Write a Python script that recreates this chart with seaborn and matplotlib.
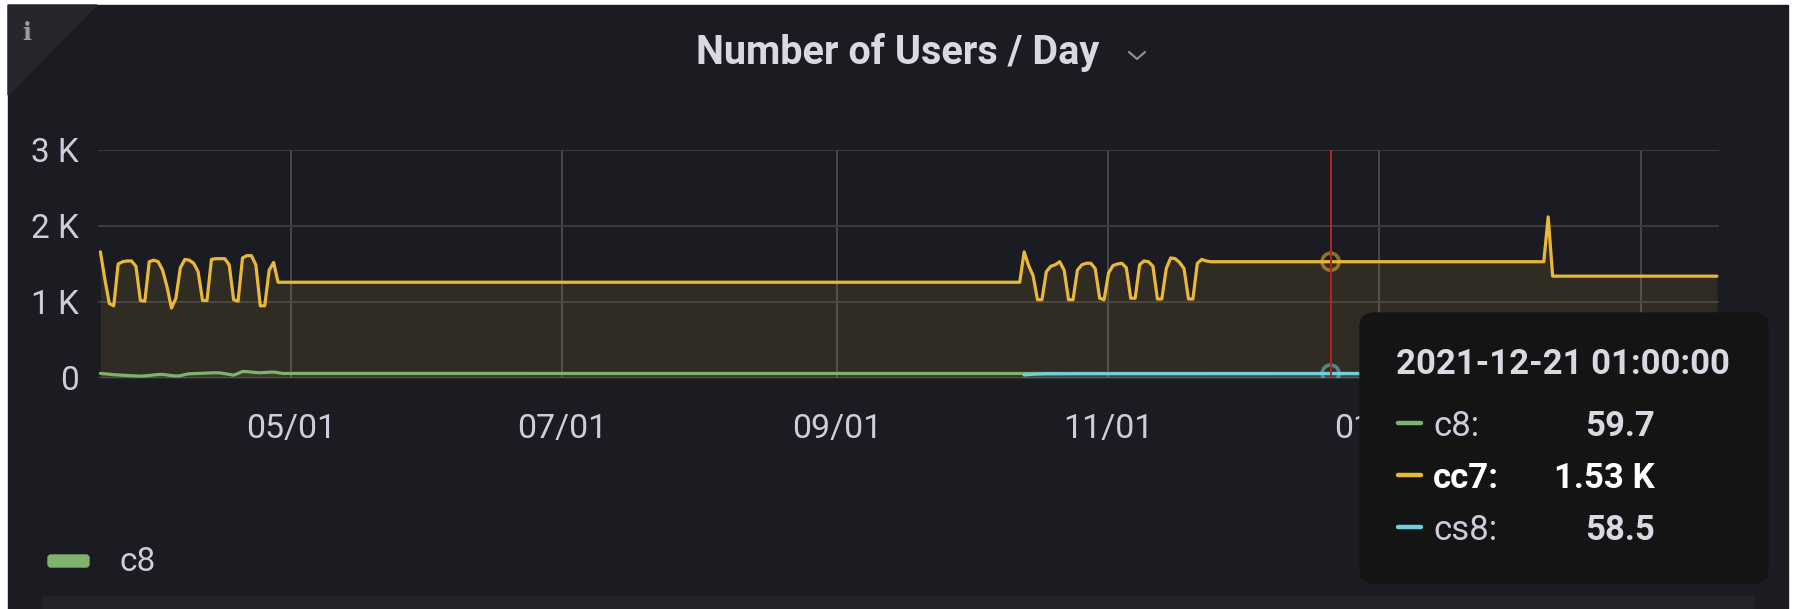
import pandas as pd
import matplotlib.pyplot as plt
import matplotlib.dates as mdates
from matplotlib.patches import FancyBboxPatch, Polygon, Rectangle
from matplotlib.lines import Line2D
from matplotlib.transforms import IdentityTransform
from matplotlib.ticker import FuncFormatter, FixedLocator
import seaborn as sns

# ---- data (daily users, day 0 = 2021-03-19 01:00) ----
start = pd.Timestamp("2021-03-19 01:00")
hover = pd.Timestamp("2021-12-21 01:00")
view = (pd.Timestamp("2021-03-18 12:00"), pd.Timestamp("2022-03-18 12:00"))

cc7_wave1 = [1660, 1300, 980, 950, 1500, 1530, 1540, 1540, 1470, 1020, 1010,
             1530, 1550, 1530, 1420, 1200, 920, 1050, 1450, 1560, 1550, 1510,
             1400, 1020, 1020, 1560, 1570, 1570, 1570, 1490, 1030, 1010, 1580,
             1610, 1610, 1490, 950, 950, 1420, 1520, 1260]
cc7_wave2 = [1260, 1660, 1480, 1350, 1030, 1030, 1400, 1470, 1490, 1530, 1420,
             1030, 1030, 1420, 1490, 1510, 1510, 1440, 1050, 1030, 1380, 1480,
             1500, 1510, 1450, 1050, 1050, 1490, 1540, 1530, 1470, 1040, 1040,
             1440, 1580, 1570, 1520, 1440, 1040, 1040, 1510, 1560, 1540, 1530]
cc7_tail_days = [325, 326, 327, 364]
cc7_tail = [1530, 2120, 1340, 1340]
cc7_days = list(range(0, 41)) + list(range(207, 251)) + cc7_tail_days
cc7_vals = cc7_wave1 + cc7_wave2 + cc7_tail

c8_wave = [60, 55, 50, 43, 40, 36, 33, 30, 27, 25, 28, 33, 40, 46, 47, 40, 32,
           26, 30, 45, 56, 58, 60, 62, 65, 67, 69, 66, 58, 48, 38, 60, 86, 84,
           78, 72, 69, 72, 76, 78, 70, 60]
c8_days = list(range(0, 42)) + [364]
c8_vals = c8_wave + [59.7]

cs8_days = [208, 210, 213, 220, 277, 364]
cs8_vals = [40, 50, 55, 57, 58.5, 58.5]

series = [("c8", c8_days, c8_vals, "#7EB26D"),
          ("cc7", cc7_days, cc7_vals, "#EAB839"),
          ("cs8", cs8_days, cs8_vals, "#6ED0E0")]
tip_labels = ["c8:", "cc7:", "cs8:"]
tip_values = ["59.7", "1.53 K", "58.5"]

# ---- style ----
W, H = 1793, 609
bg = "#1b1c21"
txt = "#ccccdc"
sns.set_theme(style="dark")
plt.rcParams["font.family"] = ["Roboto", "DejaVu Sans"]

fig = plt.figure(figsize=(W / 100, H / 100), dpi=100, facecolor="white")
px = IdentityTransform()


def P(x, y):
    # screenshot pixel (top-left origin) -> display coords
    return x, H - y


fig.add_artist(Rectangle(P(8, 609), 1780, 604, transform=px, color=bg, zorder=-5))
fig.add_artist(Rectangle(P(43, 609), 1710, 13, transform=px, color="#232429", zorder=-4))
fig.add_artist(Polygon([P(8, 5), P(97, 5), P(8, 95)], closed=True, transform=px,
                       color="#25272c", zorder=-4))
fig.text(27 / W, 1 - 33 / H, "i", family="DejaVu Serif", weight="bold", size=17,
         color="#9a9ba3", ha="center", va="center")

ax = fig.add_axes([98 / W, 1 - 378 / H, (1719 - 98) / W, (378 - 150) / H])
ax.set_facecolor("none")

for name, days, vals, col in series:
    d = pd.DataFrame({"t": start + pd.to_timedelta(days, unit="D"), "v": vals})
    ax.fill_between(d["t"], 0, d["v"], color=col, alpha=0.1, lw=0, zorder=1)
    sns.lineplot(data=d, x="t", y="v", ax=ax, color=col, lw=2.3, zorder=3)

# hover crosshair and markers
ax.scatter([hover, hover], [1530, 58.5], s=150, facecolors="none",
           edgecolors=["#EAB839", "#6ED0E0"], linewidths=2.6, alpha=0.55, zorder=4)
ax.axvline(hover, color="#b8231d", lw=1.4, zorder=5)

ax.set_xlim(view)
ax.set_ylim(0, 3000)
ax.yaxis.set_major_locator(FixedLocator([0, 1000, 2000, 3000]))
ax.yaxis.set_major_formatter(FuncFormatter(lambda v, p: "0" if v == 0 else f"{v / 1000:.0f} K"))
ax.xaxis.set_major_locator(mdates.MonthLocator(bymonth=[1, 3, 5, 7, 9, 11]))
ax.xaxis.set_major_formatter(mdates.DateFormatter("%m/%d"))
ax.set_xlabel("")
ax.set_ylabel("")
ax.grid(True, axis="y", color="#3a3b40", lw=1.4)
ax.grid(True, axis="x", color="#47484d", lw=1.4)
ax.tick_params(axis="y", length=0, pad=14, labelsize=24, labelcolor=txt)
ax.tick_params(axis="x", length=0, pad=25, labelsize=24.5, labelcolor=txt)
for s in ax.spines.values():
    s.set_visible(False)
# the 03/01 label sits fully behind the tooltip
fig.canvas.draw()
for lab in ax.get_xticklabels():
    if lab.get_text() == "03/01":
        lab.set_visible(False)

# title
fig.text(898 / W, 1 - 52 / H, "Number of Users / Day", ha="center", va="center",
         size=28.5, weight="semibold", color="#d8d9e3")
fig.add_artist(Line2D([1129, 1137, 1145], [H - 52, H - 59, H - 52], transform=px,
                      color="#8e8e96", lw=1.6))

# legend
fig.add_artist(FancyBboxPatch(P(48, 567), 41, 12, boxstyle="round,pad=0,rounding_size=3",
                              transform=px, color="#7EB26D"))
fig.text(119 / W, 1 - 562 / H, "c8", size=24, color=txt, va="center")

# tooltip
fig.add_artist(FancyBboxPatch(P(1360, 583), 408, 270, boxstyle="round,pad=0,rounding_size=14",
                              transform=px, color="#141414", zorder=6))
fig.text(1396 / W, 1 - 364 / H, "2021-12-21 01:00:00", size=25, weight="semibold",
         color="#d8d9e3", va="center", zorder=7)
for i, (name, days, vals, col) in enumerate(series):
    y = [426, 478, 530][i]
    bold = name == "cc7"
    fig.add_artist(Line2D([1398, 1421], [H - y + 3, H - y + 3], transform=px, color=col,
                          lw=3.2, solid_capstyle="round", zorder=7))
    fig.text(1433 / W, 1 - y / H, tip_labels[i], size=25, va="center", zorder=7,
             weight="bold" if bold else "normal", color="white" if bold else txt)
    fig.text(1655 / W, 1 - y / H, tip_values[i], size=25, va="center", ha="right", zorder=7,
             weight="bold", color="white" if bold else "#d8d9e3")

fig.savefig("out.png", dpi=100, facecolor="white")
